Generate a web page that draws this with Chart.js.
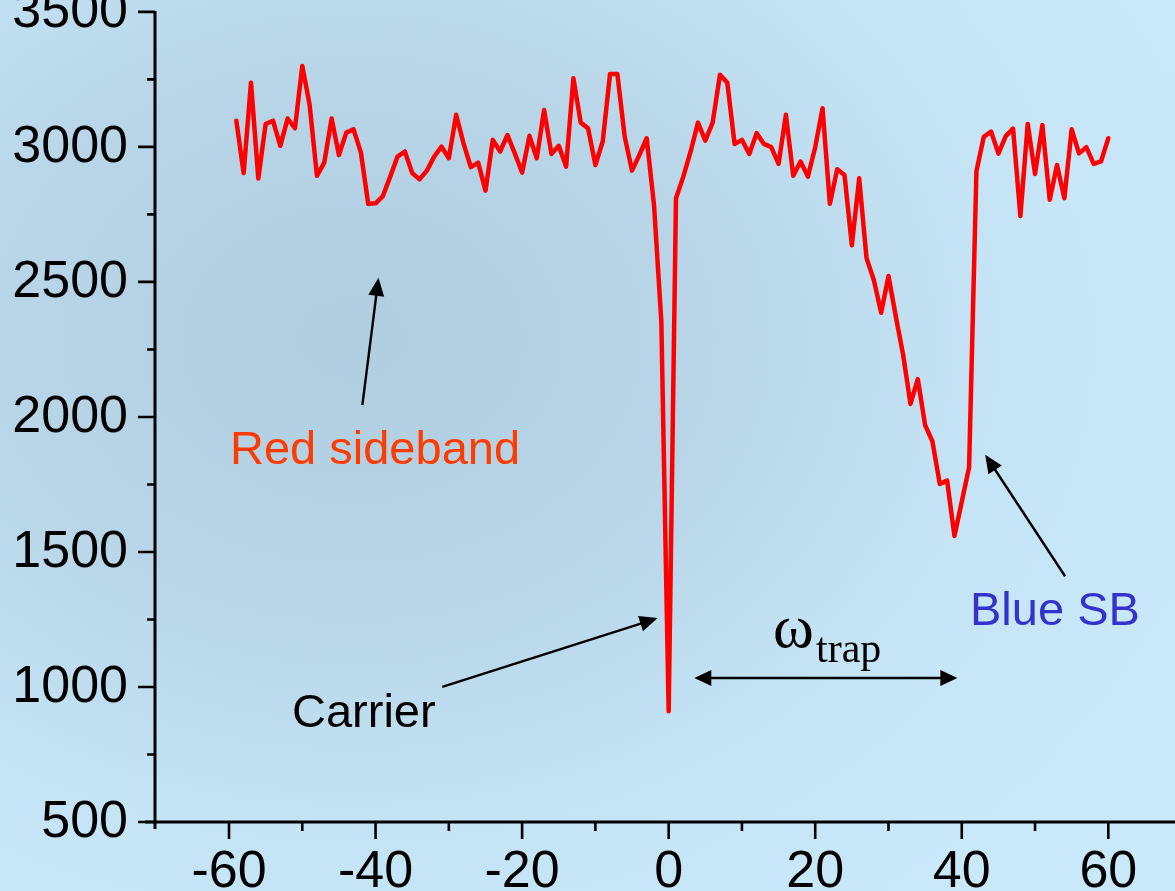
<!DOCTYPE html>
<html lang="en">
<head>
<meta charset="UTF-8"/>
<title>Sideband spectrum</title>
<script src="https://cdn.jsdelivr.net/npm/chart.js"></script>
<style>
 html,body{margin:0;padding:0;overflow:hidden}
 body{width:1175px;height:891px;
   background:radial-gradient(ellipse 900px 700px at 30% 38%, #b1cee0 0%, #b8d6e8 40%, #c4e3f5 70%, #c9e9fb 100%)}
 #wrap{position:relative;width:1175px;height:891px}
</style>
</head>
<body>
<div id="wrap"><canvas id="spec" width="1175" height="891"></canvas></div>

<script>
// detuning (x) and counts (y)
const detuning = [
 -59,-58,-57,-56,-55,-54,-53,-52,-51,-50,-49,-48,-47,-46,-45,-44,-43,-42,-41,-40,
 -39,-38,-37,-36,-35,-34,-33,-32,-31,-30,-29,-28,-27,-26,-25,-24,-23,-22,-21,-20,
 -19,-18,-17,-16,-15,-14,-13,-12,-11,-10,-9,-8,-7,-6,-5,-4,-3,-2,-1,0,
 1,2,3,4,5,6,7,8,9,10,11,12,13,14,15,16,17,18,19,20,
 21,22,23,24,25,26,27,28,29,30,31,32,33,34,35,36,37,38,39,40,
 41,42,43,44,45,46,47,48,49,50,51,52,53,54,55,56,57,58,59,60];
const counts = [
 3097,2903,3238,2883,3085,3097,3004,3105,3069,3300,3156,2893,2942,3105,2970,3053,3065,2979,2789,2791,
 2818,2890,2964,2983,2903,2880,2912,2964,3001,2958,3119,3013,2925,2942,2838,3026,2983,3044,2976,2905,
 3041,2958,3137,2974,3004,2927,3254,3090,3069,2933,3020,3270,3270,3038,2912,2970,3032,2785,2354,910,
 2810,2890,2983,3090,3023,3090,3267,3238,3011,3026,2974,3051,3011,2999,2937,3119,2893,2946,2890,2999,
 3143,2789,2917,2896,2636,2884,2588,2507,2386,2522,2372,2230,2048,2140,1970,1909,1752,1764,1559,1686,
 1814,2910,3037,3057,2975,3040,3068,2744,3085,2900,3081,2804,2933,2810,3065,2976,2999,2937,2946,3032];

const yMajor = [500,1000,1500,2000,2500,3000,3500];
const yMinor = [750,1250,1750,2250,2750,3250];
const xMajor = [-60,-40,-20,0,20,40,60];
const xMinor = [-50,-30,-10,10,30,50];

// annotation arrows in data units: [fromX, fromY, toX, toY]
const arrows = [
  [-41.8, 2044, -39.6, 2515],   // red sideband
  [-30.9, 1000, -1.5, 1255],    // carrier
  [54.1, 1410, 43.2, 1860]      // blue SB
];

function arrowHead(ctx, x1, y1, x2, y2, len, half) {
  const a = Math.atan2(y2 - y1, x2 - x1);
  const bx = x2 - len * Math.cos(a), by = y2 - len * Math.sin(a);
  ctx.beginPath();
  ctx.moveTo(x2, y2);
  ctx.lineTo(bx + half * Math.sin(a), by - half * Math.cos(a));
  ctx.lineTo(bx - half * Math.sin(a), by + half * Math.cos(a));
  ctx.closePath();
  ctx.fill();
}

function arrow(ctx, x1, y1, x2, y2) {
  const a = Math.atan2(y2 - y1, x2 - x1);
  ctx.beginPath();
  ctx.moveTo(x1, y1);
  ctx.lineTo(x2 - 12 * Math.cos(a), y2 - 12 * Math.sin(a));
  ctx.stroke();
  arrowHead(ctx, x1, y1, x2, y2, 18, 8);
}

const axesPlugin = {
  id: 'axesPlugin',
  afterDraw(chart) {
    const ctx = chart.ctx, xs = chart.scales.x, ys = chart.scales.y;
    const ax = chart.chartArea.left, ay = chart.chartArea.bottom;
    ctx.save();
    ctx.strokeStyle = '#000';
    ctx.fillStyle = '#000';
    ctx.lineWidth = 3;
    // axis lines
    ctx.beginPath();
    ctx.moveTo(ax, ys.getPixelForValue(3500) - 1);
    ctx.lineTo(ax, ay + 7);
    ctx.moveTo(ax - 10, ay);
    ctx.lineTo(chart.width, ay);
    ctx.stroke();
    // ticks
    ctx.lineWidth = 2.6;
    ctx.beginPath();
    yMajor.forEach(v => { const p = ys.getPixelForValue(v); ctx.moveTo(ax - 17, p); ctx.lineTo(ax, p); });
    yMinor.forEach(v => { const p = ys.getPixelForValue(v); ctx.moveTo(ax - 8, p); ctx.lineTo(ax, p); });
    xMajor.forEach(v => { const p = xs.getPixelForValue(v); ctx.moveTo(p, ay); ctx.lineTo(p, ay + 17); });
    xMinor.forEach(v => { const p = xs.getPixelForValue(v); ctx.moveTo(p, ay); ctx.lineTo(p, ay + 9); });
    ctx.stroke();
    // tick labels
    ctx.font = '52px "Liberation Sans", Arial, sans-serif';
    ctx.textAlign = 'right';
    ctx.textBaseline = 'middle';
    yMajor.forEach(v => ctx.fillText(String(v), 128, ys.getPixelForValue(v) + 1));
    ctx.textAlign = 'center';
    ctx.textBaseline = 'alphabetic';
    xMajor.forEach(v => ctx.fillText(String(v), xs.getPixelForValue(v), ay + 65));

    // annotations
    ctx.lineWidth = 2.4;
    arrows.forEach(a => arrow(ctx, xs.getPixelForValue(a[0]), ys.getPixelForValue(a[1]),
                                   xs.getPixelForValue(a[2]), ys.getPixelForValue(a[3])));
    // omega_trap double arrow
    const dy = ys.getPixelForValue(1033);
    const dx1 = xs.getPixelForValue(3.5), dx2 = xs.getPixelForValue(39.4);
    ctx.beginPath();
    ctx.moveTo(dx1 + 10, dy); ctx.lineTo(dx2 - 10, dy); ctx.stroke();
    arrowHead(ctx, dx2, dy, dx1, dy, 17, 8);
    arrowHead(ctx, dx1, dy, dx2, dy, 17, 8);

    ctx.textAlign = 'left';
    ctx.font = '47px "Liberation Sans", Arial, sans-serif';
    ctx.fillStyle = '#ff3c00';
    ctx.fillText('Red sideband', 230, 464);
    ctx.fillStyle = '#000';
    ctx.fillText('Carrier', 292, 727);
    ctx.fillStyle = '#3333cc';
    ctx.fillText('Blue SB', 970, 625);
    ctx.fillStyle = '#000';
    ctx.font = '62px "Liberation Serif", "Times New Roman", serif';
    ctx.fillText('ω', 773, 647);
    ctx.font = '42px "Liberation Serif", "Times New Roman", serif';
    ctx.fillText('trap', 816, 662);
    ctx.restore();
  }
};

new Chart(document.getElementById('spec'), {
  type: 'line',
  data: {
    datasets: [{
      data: detuning.map((x, i) => ({x: x, y: counts[i]})),
      borderColor: '#ff0000',
      borderWidth: 4.5,
      borderJoinStyle: 'round',
      borderCapStyle: 'round',
      pointRadius: 0,
      tension: 0,
      fill: false
    }]
  },
  options: {
    responsive: false,
    animation: false,
    layout: {padding: {left: 155, right: 0, top: 0, bottom: 69}},
    plugins: {legend: {display: false}, tooltip: {enabled: false}},
    scales: {
      x: {type: 'linear', min: -70.1, max: 69.1, display: false},
      y: {type: 'linear', min: 500, max: 3544, display: false}
    }
  },
  plugins: [axesPlugin]
});
</script>
</body>
</html>
